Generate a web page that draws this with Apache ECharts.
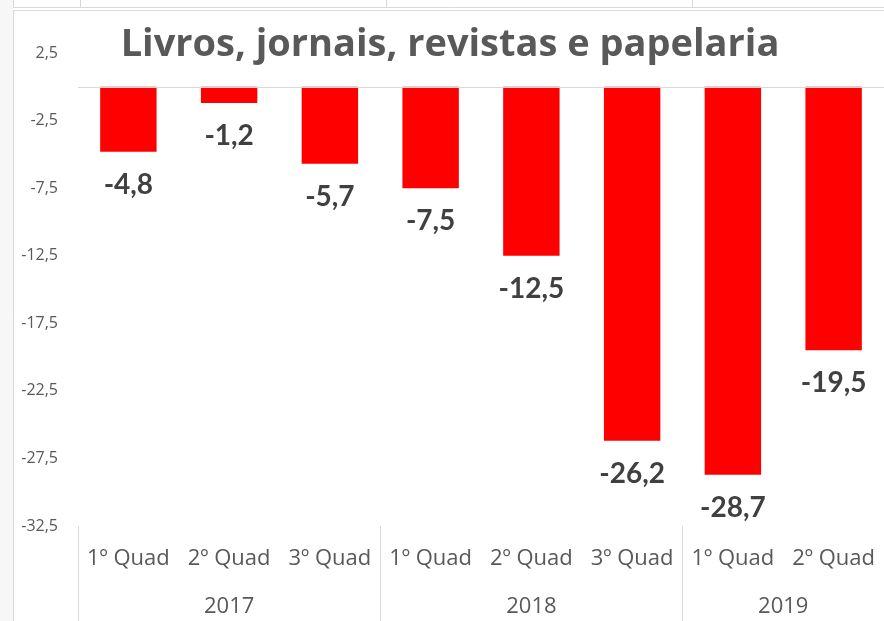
<!DOCTYPE html>
<html>
<head>
<meta charset="utf-8">
<script src="https://cdn.jsdelivr.net/npm/echarts@6/dist/echarts.min.js"></script>
<style>
  html, body { margin: 0; padding: 0; background: #fff; }
  #chart { width: 884px; height: 621px; }
</style>
</head>
<body>
<div id="chart"></div>
<script>
// quarter categories and values (variação %)
const quarters = ['1º Quad', '2º Quad', '3º Quad', '1º Quad', '2º Quad', '3º Quad', '1º Quad', '2º Quad']
const values = [-4.8, -1.2, -5.7, -7.5, -12.5, -26.2, -28.7, -19.5]
// year groups and how many quarters each holds
const years = ['2017', '2018', '2019']
const yearSizes = [3, 3, 2]
const yMin = -32.5
const yMax = 2.5
const yStep = 5

// group boundaries and centres on a 0..n scale
const bounds = [0]
yearSizes.forEach(n => bounds.push(bounds[bounds.length - 1] + n))
const centres = years.map((y, i) => (bounds[i] + bounds[i + 1]) / 2)

const font = '"Open Sans", Lato, sans-serif'
const labelFont = 'Lato, "Open Sans", sans-serif'
const comma = v => String(v).replace('.', ',')

const chart = echarts.init(document.getElementById('chart'))
chart.setOption({
  animation: false,
  grid: { left: 78, top: 53, width: 815, height: 473, containLabel: false },
  graphic: [
    { type: 'rect', shape: { x: 0, y: 0, width: 13, height: 621 }, style: { fill: '#f7f7f7' } },
    { type: 'rect', shape: { x: 13.5, y: 10.5, width: 900, height: 700 }, style: { fill: 'none', stroke: '#d9d9d9', lineWidth: 1 } },
    { type: 'line', shape: { x1: 13, y1: 7.5, x2: 884, y2: 7.5 }, style: { stroke: '#d9d9d9' } },
    { type: 'line', shape: { x1: 13.5, y1: 0, x2: 13.5, y2: 8 }, style: { stroke: '#d9d9d9' } },
    { type: 'line', shape: { x1: 80.5, y1: 0, x2: 80.5, y2: 8 }, style: { stroke: '#d9d9d9' } },
    { type: 'line', shape: { x1: 386.5, y1: 0, x2: 386.5, y2: 8 }, style: { stroke: '#d9d9d9' } },
    { type: 'line', shape: { x1: 692.5, y1: 0, x2: 692.5, y2: 8 }, style: { stroke: '#d9d9d9' } },
    { type: 'text', x: 235, y: -19, style: { text: '2017', fill: '#595959', font: '22px ' + font, textAlign: 'center' } },
    { type: 'text', x: 540, y: -19, style: { text: '2018', fill: '#595959', font: '22px ' + font, textAlign: 'center' } },
    { type: 'text', x: 800, y: -19, style: { text: '2019', fill: '#595959', font: '22px ' + font, textAlign: 'center' } },
    {
      type: 'text', x: 450, y: 45,
      style: {
        text: 'Livros, jornais, revistas e papelaria', fill: '#595959',
        font: 'bold 38px ' + font, textAlign: 'center', textVerticalAlign: 'middle'
      }
    }
  ],
  xAxis: [{
    type: 'category',
    data: quarters,
    position: 'bottom',
    axisLine: { show: false },
    axisTick: { show: false },
    axisLabel: { interval: 0, margin: 22, color: '#595959', fontSize: 22, fontFamily: font }
  }, {
    type: 'value',
    min: 0,
    max: bounds[bounds.length - 1],
    position: 'bottom',
    axisLine: { show: false },
    splitLine: { show: false },
    axisTick: { show: true, customValues: bounds, length: 100, lineStyle: { color: '#d9d9d9' } },
    axisLabel: {
      customValues: centres,
      margin: 70,
      color: '#595959',
      fontSize: 22,
      fontFamily: font,
      formatter: v => years[centres.indexOf(v)] || ''
    }
  }],
  yAxis: {
    type: 'value',
    min: yMin,
    max: yMax,
    interval: yStep,
    axisLine: { show: false },
    axisTick: { show: false },
    splitLine: { show: false },
    axisLabel: { margin: 20, color: '#595959', fontSize: 16, fontFamily: font, formatter: v => comma(v) }
  },
  series: [{
    type: 'bar',
    data: values,
    barWidth: '56%',
    itemStyle: { color: '#ff0000' },
    label: {
      show: true,
      position: 'bottom',
      distance: 19,
      color: '#404040',
      fontSize: 28,
      fontWeight: 'bold',
      fontFamily: labelFont,
      formatter: p => comma(p.value)
    },
    markLine: {
      silent: true,
      symbol: ['none', 'none'],
      label: { show: false },
      lineStyle: { color: '#d9d9d9', type: 'solid', width: 1 },
      data: [{ yAxis: 0 }]
    }
  }]
})
</script>
</body>
</html>
